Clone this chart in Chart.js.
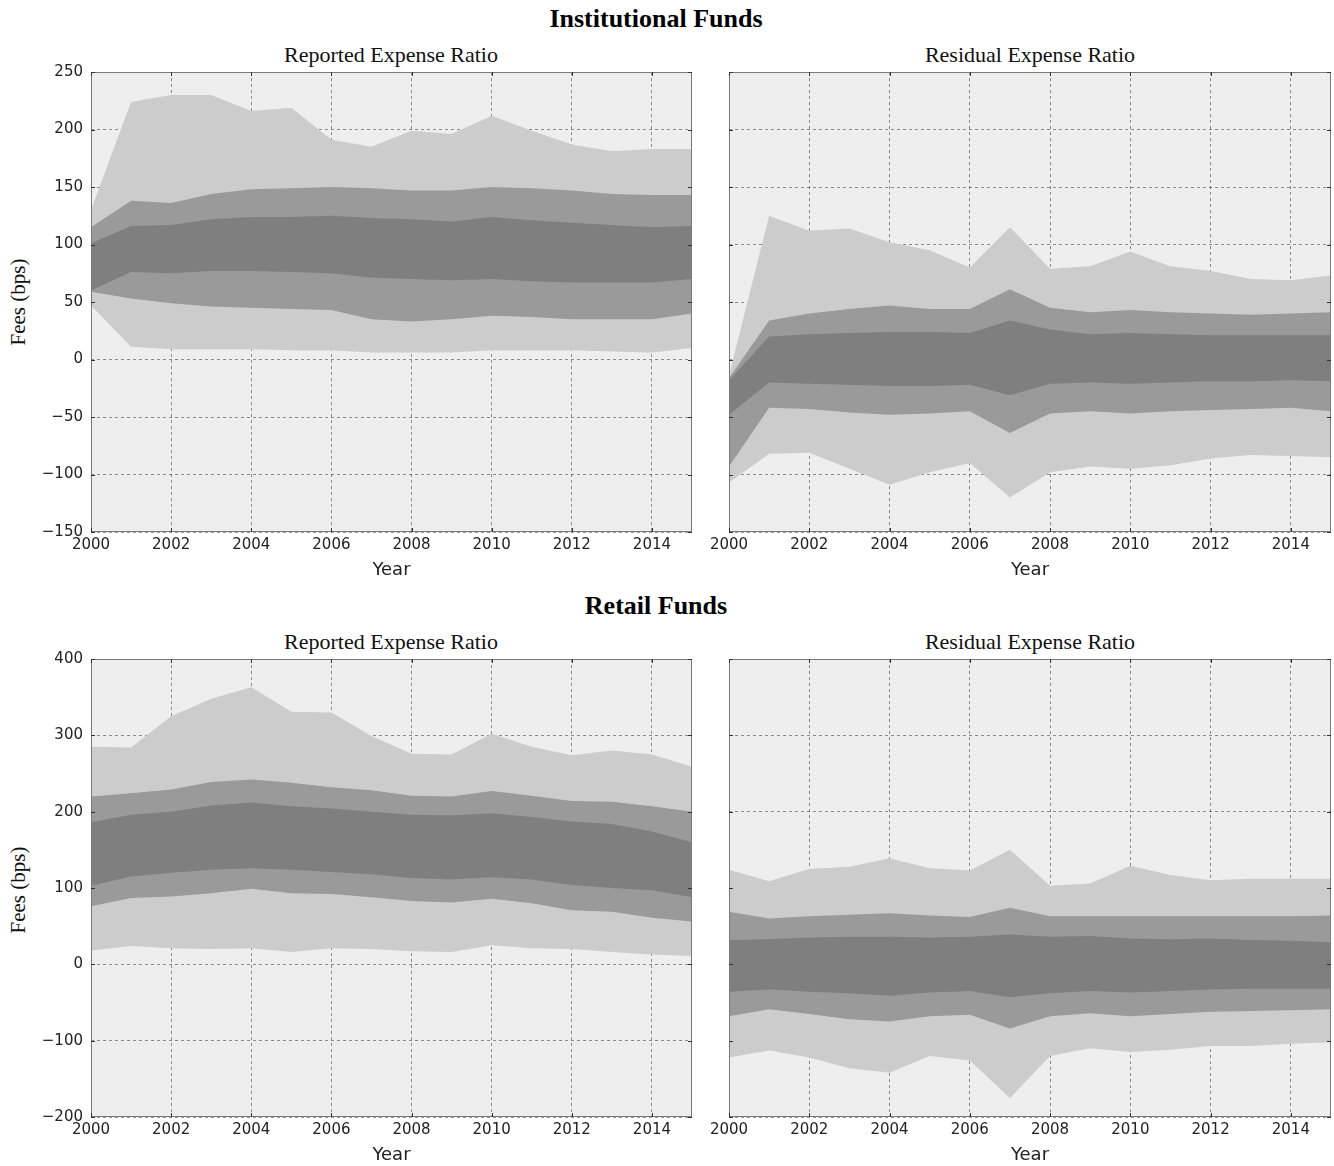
<!DOCTYPE html>
<html>
<head>
<meta charset="utf-8">
<script src="https://cdn.jsdelivr.net/npm/chart.js@4.4.1/dist/chart.umd.min.js"></script>
<style>
  html, body { margin: 0; padding: 0; background: #fff; overflow: hidden; }
  #fig { position: relative; width: 1334px; height: 1166px; }
  #fig canvas { position: absolute; }
  .t { position: absolute; transform: translate(-50%, -50%); white-space: nowrap; line-height: 1; color: #000; }
  .sup { font: bold 26px "Liberation Serif", serif; }
  .sub { font: 22px "Liberation Serif", serif; color: #111; }
  .ylab { font: 21px "Liberation Serif", serif; color: #111; transform: translate(-50%, -50%) rotate(-90deg); }
</style>
</head>
<body>
<div id="fig">
  <div class="t sup" style="left:656px; top:19px;">Institutional Funds</div>
  <div class="t sub" style="left:391px; top:55px;">Reported Expense Ratio</div>
  <div class="t sub" style="left:1030px; top:55px;">Residual Expense Ratio</div>
  <div class="t ylab" style="left:18px; top:302px;">Fees (bps)</div>

  <div class="t sup" style="left:656px; top:606px;">Retail Funds</div>
  <div class="t sub" style="left:391px; top:642px;">Reported Expense Ratio</div>
  <div class="t sub" style="left:1030px; top:642px;">Residual Expense Ratio</div>
  <div class="t ylab" style="left:18px; top:890px;">Fees (bps)</div>
</div>

<script>
// ---- data (fees in basis points) ----
const years = [2000, 2001, 2002, 2003, 2004, 2005, 2006, 2007, 2008, 2009, 2010, 2011, 2012, 2013, 2014, 2015];
const xTickYears = [2000, 2002, 2004, 2006, 2008, 2010, 2012, 2014];
const instTicks = [-150, -100, -50, 0, 50, 100, 150, 200, 250];
const retailTicks = [-200, -100, 0, 100, 200, 300, 400];

// Institutional funds, reported expense ratio: band edges from the top down
const instRepOuterHi = [130, 224, 230, 230, 216, 219, 191, 185, 199, 196, 212, 199, 187, 181, 183, 183];
const instRepMidHi   = [115, 138, 136, 144, 148, 149, 150, 149, 147, 147, 150, 149, 147, 144, 143, 143];
const instRepInnerHi = [101, 116, 117, 122, 124, 124, 125, 123, 122, 120, 124, 121, 119, 117, 115, 116];
const instRepInnerLo = [60, 76, 75, 77, 77, 76, 75, 71, 70, 69, 70, 68, 67, 67, 67, 70];
const instRepMidLo   = [59, 53, 49, 46, 45, 44, 43, 35, 33, 35, 38, 37, 35, 35, 35, 40];
const instRepOuterLo = [47, 11, 9, 9, 9, 8, 8, 6, 6, 6, 8, 8, 8, 7, 6, 10];

// Institutional funds, residual expense ratio
const instResOuterHi = [-14, 125, 112, 114, 102, 95, 80, 115, 79, 81, 94, 81, 77, 70, 69, 73];
const instResMidHi   = [-16, 34, 40, 44, 47, 44, 44, 61, 45, 41, 43, 41, 40, 39, 40, 41];
const instResInnerHi = [-18, 20, 22, 23, 24, 24, 23, 34, 26, 22, 23, 22, 21, 21, 21, 21];
const instResInnerLo = [-48, -20, -21, -22, -23, -23, -22, -31, -21, -20, -21, -20, -19, -19, -18, -19];
const instResMidLo   = [-93, -42, -43, -46, -48, -47, -45, -64, -47, -45, -47, -45, -44, -43, -42, -45];
const instResOuterLo = [-107, -82, -81, -95, -109, -98, -90, -120, -98, -93, -95, -92, -86, -83, -84, -85];

// Retail funds, reported expense ratio
const retRepOuterHi = [285, 284, 325, 348, 363, 331, 330, 299, 276, 275, 302, 285, 274, 280, 275, 259];
const retRepMidHi   = [220, 224, 229, 239, 242, 238, 232, 228, 221, 220, 227, 221, 214, 213, 207, 200];
const retRepInnerHi = [186, 196, 200, 208, 212, 207, 204, 200, 196, 195, 198, 193, 187, 184, 174, 160];
const retRepInnerLo = [103, 115, 120, 124, 126, 124, 121, 118, 113, 111, 114, 111, 104, 100, 97, 88];
const retRepMidLo   = [76, 87, 89, 93, 99, 93, 92, 88, 83, 81, 86, 80, 71, 69, 61, 56];
const retRepOuterLo = [18, 24, 21, 20, 21, 16, 21, 20, 17, 16, 25, 21, 20, 16, 13, 11];

// Retail funds, residual expense ratio
const retResOuterHi = [124, 109, 125, 128, 139, 126, 123, 150, 103, 106, 129, 117, 110, 112, 112, 112];
const retResMidHi   = [69, 60, 63, 65, 67, 64, 62, 74, 63, 63, 63, 63, 63, 63, 63, 64];
const retResInnerHi = [32, 33, 35, 36, 36, 35, 36, 39, 36, 37, 34, 33, 34, 32, 31, 29];
const retResInnerLo = [-36, -33, -36, -38, -41, -37, -35, -43, -38, -35, -37, -35, -33, -32, -32, -32];
const retResMidLo   = [-68, -59, -65, -72, -75, -68, -66, -84, -68, -64, -68, -65, -62, -61, -60, -59];
const retResOuterLo = [-122, -113, -122, -136, -142, -120, -126, -175, -120, -110, -115, -112, -107, -107, -104, -102];

// ---- styling ----
const FACE = '#eeeeee';
const LIGHT = '#cccccc';
const MED = '#9a9a9a';
const DARK = '#7f7f7f';
const GRID = 'rgba(0,0,0,0.42)';
const FRAME = '#7a7a7a';
const TEXT = '#222222';

const Y_W = 60;   // room for the y tick labels
const T_PAD = 22; // above the plot area (covers half of the top tick label)
const R_PAD = 8;  // right of the plot area
const X_H = 49;   // x tick labels + axis title

const fmt = v => (v < 0 ? '\u2212' + Math.abs(v) : String(v));

// face colour, frame and inward tick marks on all four sides
const framePlugin = {
  id: 'frame',
  beforeDraw(chart) {
    const { ctx, chartArea: a } = chart;
    ctx.save();
    ctx.fillStyle = FACE;
    ctx.fillRect(a.left, a.top, a.right - a.left, a.bottom - a.top);
    ctx.restore();
  },
  afterDraw(chart) {
    const { ctx, chartArea: a, scales } = chart;
    ctx.save();
    ctx.strokeStyle = FRAME;
    ctx.lineWidth = 1;
    ctx.strokeRect(Math.round(a.left) + 0.5, Math.round(a.top) + 0.5,
                   Math.round(a.right - a.left) - 1, Math.round(a.bottom - a.top) - 1);
    ctx.strokeStyle = '#333';
    ctx.beginPath();
    const L = 4;
    scales.y.ticks.forEach(t => {
      const y = Math.round(scales.y.getPixelForValue(t.value)) + 0.5;
      ctx.moveTo(a.left, y); ctx.lineTo(a.left + L, y);
      ctx.moveTo(a.right, y); ctx.lineTo(a.right - L, y);
    });
    scales.x.ticks.forEach(t => {
      const x = Math.round(scales.x.getPixelForValue(t.value)) + 0.5;
      ctx.moveTo(x, a.bottom); ctx.lineTo(x, a.bottom - L);
      ctx.moveTo(x, a.top); ctx.lineTo(x, a.top + L);
    });
    ctx.stroke();
    ctx.restore();
  }
};

function edge(values, fill, color) {
  return {
    data: years.map((yr, i) => ({ x: yr, y: values[i] })),
    fill: fill,
    backgroundColor: color || 'rgba(0,0,0,0)',
    borderColor: 'rgba(0,0,0,0)',
    borderWidth: 0,
    pointRadius: 0,
    pointHoverRadius: 0,
    tension: 0
  };
}

// nested bands: outer (light) under middle (medium) under inner (dark)
function bandSets(outerHi, midHi, innerHi, innerLo, midLo, outerLo) {
  return [
    edge(innerHi, '+1', DARK), edge(innerLo, false),
    edge(midHi, '+1', MED), edge(midLo, false),
    edge(outerHi, '+1', LIGHT), edge(outerLo, false)
  ];
}

function panel(px, py, pw, ph, yMin, yMax, yTicks, showYLabels, datasets) {
  const cv = document.createElement('canvas');
  const w = pw + Y_W + R_PAD, h = ph + T_PAD + X_H;
  cv.width = w; cv.height = h;
  cv.style.left = (px - Y_W) + 'px';
  cv.style.top = (py - T_PAD) + 'px';
  cv.style.width = w + 'px'; cv.style.height = h + 'px';
  document.getElementById('fig').appendChild(cv);

  const gridCfg = { color: GRID, lineWidth: 1, drawTicks: false };
  const borderCfg = { display: false, dash: [3, 3] };

  new Chart(cv, {
    type: 'line',
    data: { datasets },
    plugins: [framePlugin],
    options: {
      responsive: false,
      animation: false,
      devicePixelRatio: 1,
      events: [],
      layout: { padding: { top: T_PAD, right: R_PAD, left: 0, bottom: 0 } },
      plugins: { legend: { display: false }, tooltip: { enabled: false } },
      scales: {
        x: {
          type: 'linear', min: 2000, max: 2015, z: 1,
          afterBuildTicks: s => { s.ticks = xTickYears.map(v => ({ value: v })); },
          afterFit: s => { s.height = X_H; },
          grid: gridCfg, border: borderCfg,
          ticks: {
            font: { family: 'DejaVu Sans', size: 15 }, color: TEXT, padding: 4,
            maxRotation: 0, autoSkip: false, callback: v => String(v)
          },
          title: {
            display: true, text: 'Year', color: TEXT, padding: 0,
            font: { family: 'DejaVu Sans', size: 18 }
          }
        },
        y: {
          type: 'linear', min: yMin, max: yMax, z: 1,
          afterBuildTicks: s => { s.ticks = yTicks.map(v => ({ value: v })); },
          afterFit: s => { s.width = Y_W; },
          grid: gridCfg, border: borderCfg,
          ticks: {
            font: { family: 'DejaVu Sans', size: 15 },
            color: showYLabels ? TEXT : 'rgba(0,0,0,0)',
            padding: 8, autoSkip: false, callback: v => fmt(v)
          }
        }
      }
    }
  });
}

panel(91, 72, 601, 460, -150, 250, instTicks, true,
  bandSets(instRepOuterHi, instRepMidHi, instRepInnerHi, instRepInnerLo, instRepMidLo, instRepOuterLo));
panel(729, 72, 602, 460, -150, 250, instTicks, false,
  bandSets(instResOuterHi, instResMidHi, instResInnerHi, instResInnerLo, instResMidLo, instResOuterLo));
panel(91, 659, 601, 458, -200, 400, retailTicks, true,
  bandSets(retRepOuterHi, retRepMidHi, retRepInnerHi, retRepInnerLo, retRepMidLo, retRepOuterLo));
panel(729, 659, 602, 458, -200, 400, retailTicks, false,
  bandSets(retResOuterHi, retResMidHi, retResInnerHi, retResInnerLo, retResMidLo, retResOuterLo));
</script>
</body>
</html>
